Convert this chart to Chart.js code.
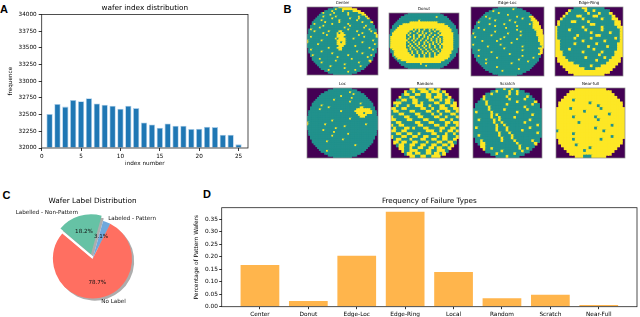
<!DOCTYPE html>
<html>
<head>
<meta charset="utf-8">
<script src="https://cdn.jsdelivr.net/npm/chart.js@4.4.0/dist/chart.umd.min.js"></script>
<style>
  html, body { margin: 0; padding: 0; background: #fff; }
  #page { position: relative; width: 640px; height: 317px; overflow: hidden; }
  #page canvas { position: absolute; }
  .tag { position: absolute; font: bold 11px "Liberation Sans", Arial, sans-serif; line-height: 11px; color: #000; }
</style>
</head>
<body>
<div id="page">
  <div class="tag" style="left:0px;top:3.6px">A</div>
  <div class="tag" style="left:283.5px;top:3.6px">B</div>
  <div class="tag" style="left:2.5px;top:189.6px">C</div>
  <div class="tag" style="left:203px;top:188.6px">D</div>
</div>
<script>
// panel A
const indexNumbers = [1, 2, 3, 4, 5, 6, 7, 8, 9, 10, 11, 12, 13, 14, 15, 16, 17, 18, 19, 20, 21, 22, 23, 24, 25];
const indexCounts = [32510, 32660, 32620, 32720, 32700, 32745, 32667, 32647, 32632, 32587, 32632, 32597,
  32383, 32353, 32303, 32368, 32333, 32333, 32284, 32289, 32318, 32313, 32199, 32199, 32055];

// panel C
const pieLabels = ['Labelled - Non-Pattern', 'Labeled - Pattern', 'No Label'];
const pieShares = [18.2, 3.1, 78.7];

// panel D
const failureTypes = ['Center', 'Donut', 'Edge-Loc', 'Edge-Ring', 'Local', 'Random', 'Scratch', 'Near-Full'];
const failureShares = [0.167, 0.023, 0.204, 0.381, 0.139, 0.034, 0.048, 0.007];

// panel B wafer maps: 0 = off wafer, 1 = pass die, 2 = fail die
const centerMap = [
  '00000 00000 00000  11122 22222  00000 00000 00000',
  '00000 00000 00  11112 11122 22222 2  00000 00000 00',
  '00000 00000  11112 11111 21111 12222  00000 00000',
  '00000 000  12111 11211 11111 21111 1222  00000 000',
  '00000 00  11111 12111 11111 12111 11112 2  00000 00',
  '00000 0  11121 11111 21111 11111 11121 112  00000 0',
  '00000  11111 11112 11111 11112 11112 11112  00000',
  '0000  11112 11111 11112 11111 11112 11111 11  0000',
  '000  11111 11211 11111 21111 11111 11121 1112  000',
  '000  12111 11111 12111 11111 21111 11111 1111  000',
  '00  11111 11211 11111 11111 11211 11111 12111 1  00',
  '00  11111 21111 11111 11112 11111 11111 21111 1  00',
  '0  12111 11111 11111 11111 11211 11111 11112 111  0',
  '0  11121 11111 12111 11221 11111 11211 11111 211  0',
  '0  11111 11121 11111 12122 11111 11111 21111 112  0',
  '11111 11111 12111 11222 22111 11112 11111 11112',
  '11211 11111 11111 11222 21111 11111 11211 11112',
  '11111 11111 11111 12122 22111 12111 11111 11111',
  '21111 11121 11111 11222 22111 11111 11111 11211',
  '21111 11111 11111 11221 22111 11111 12111 11111',
  '11111 12111 11111 11222 22111 11111 11111 11121',
  '11111 11111 11111 11122 21111 11211 11111 11111',
  '0  11111 11111 12111 12221 11111 11111 11112 111  0',
  '0  12111 11111 11111 11221 11111 11111 11111 121  0',
  '0  11111 11211 11111 11111 11111 11211 11111 111  0',
  '00  11111 11111 11211 11111 11111 11112 11111 1  00',
  '00  12111 11111 11111 11111 12111 11111 11112 1  00',
  '000  11111 11111 11112 11111 11111 11111 1211  000',
  '000  11112 11111 11111 11111 11211 11111 1111  000',
  '0000  11111 11111 11211 11111 11111 11111 12  0000',
  '00000  11121 11111 11111 11111 11112 11111  00000',
  '00000 0  11111 11111 11111 21111 11111 111  00000 0',
  '00000 00  11111 12111 11111 11111 11121 1  00000 00',
  '00000 000  11111 11111 11121 11111 1111  00000 000',
  '00000 00000  11211 11111 11111 11211  00000 00000',
  '00000 00000 00  11111 11111 12111 1  00000 00000 00',
  '00000 00000 00000  11111 11111  00000 00000 00000'
];

const donutMap = [
  '00000 00000 01111 11111 11111 11110 00000 00000',
  '00000 00001 11111 11111 11111 11111 10000 00000',
  '00000 00111 11111 11111 11111 11211 11100 00000',
  '00000 01111 11111 11111 11111 11111 11110 00000',
  '00000 11111 11111 11211 11111 11111 11111 00000',
  '00001 11111 11222 22222 22222 22211 11111 10000',
  '00011 11122 22222 22222 22222 22222 22111 11000',
  '00111 12222 22222 22222 22222 22222 22221 11100',
  '00111 22222 22222 22222 22222 22222 22222 11100',
  '01112 22222 22221 21211 21121 21222 22222 21110',
  '01122 22222 22112 11212 11121 12112 22222 21110',
  '01222 22222 21211 12112 12112 11121 22222 22110',
  '11222 22222 12112 11221 21121 12112 22222 22111',
  '12222 22222 11212 11211 21211 21121 12222 22111',
  '12222 22222 12112 12112 11212 11212 12222 22111',
  '12222 22222 21121 21121 12112 11212 12222 22111',
  '12222 22222 12112 11211 21211 21212 12222 22111',
  '12222 22222 11211 21211 21121 21121 22222 22111',
  '12222 22222 12121 12112 12121 12112 12222 22111',
  '02222 22222 11212 11211 21121 12112 12222 22110',
  '01222 22222 21211 21121 12112 11211 22222 22110',
  '01122 22222 21121 12112 11211 21121 22222 21110',
  '00122 22222 22121 12112 12121 12112 22222 21100',
  '00122 22222 22212 11211 21121 12122 22222 11100',
  '00012 22222 22222 11211 21121 12222 22222 11000',
  '00001 22222 22222 22222 22222 22222 22221 10000',
  '00000 11222 22222 22222 22222 22222 22111 00000',
  '00000 01111 22222 22222 22222 22222 11110 00000',
  '00000 00111 11111 11121 11111 11111 11100 00000',
  '00000 00001 11111 11111 12111 11111 10000 00000',
  '00000 00000 01111 11111 11111 11110 00000 00000'
];

const edgeLocMap = [
  '00000 00000 00000  11111 11111  00000 00000 00000',
  '00000 00000 00  11111 11111 12111 1  00000 00000 00',
  '00000 00000  11211 11111 11111 11111  00000 00000',
  '00000 000  11111 11211 11111 11111 1111  00000 000',
  '00000 00  11111 11111 11121 11111 11111 1  00000 00',
  '00000 0  11211 11111 11111 11112 11111 122  00000 0',
  '00000  11111 21111 11111 11111 11121 11122  00000',
  '0000  11111 11112 11111 11211 11111 11112 22  0000',
  '000  12111 11111 11111 11111 12111 11111 1222  000',
  '000  11111 11211 11111 21111 11111 11112 1222  000',
  '00  11111 11111 12111 11111 11121 11111 11222 2  00',
  '00  11211 11111 11111 11211 11111 11111 11222 2  00',
  '0  11111 12111 11111 11111 11112 11111 11112 222  0',
  '0  11111 11111 11211 11111 11111 12111 11111 222  0',
  '0  21111 11111 11111 11112 11111 11111 11111 222  0',
  '11111 11111 12111 11111 11111 11211 11111 12222',
  '11211 11111 11111 11121 11111 11111 11111 11222',
  '11111 11111 11111 12111 11111 21111 11111 11222',
  '11111 12111 11112 11111 11111 11111 11111 11222',
  '11111 11111 11111 11111 11211 11111 11111 11122',
  '12111 11111 11111 12111 11111 11111 11111 11122',
  '11111 11112 11111 11111 11111 11121 11111 11112',
  '0  11111 11111 11111 11211 11111 11111 11111 122  0',
  '0  11121 11111 11111 11111 11111 11211 11111 112  0',
  '0  11111 11111 21111 11111 11111 11111 11111 112  0',
  '00  11111 11111 11111 11112 11111 11111 11111 2  00',
  '00  11211 11111 11111 11111 11111 12111 11111 1  00',
  '000  11111 11111 12111 11111 11111 11111 1211  000',
  '000  11111 21111 11111 11111 11121 11111 1111  000',
  '0000  11111 11111 11111 11111 11111 11211 11  0000',
  '00000  11121 11111 11111 11211 11111 11111  00000',
  '00000 0  11111 11111 11111 11111 11111 111  00000 0',
  '00000 00  11111 11211 11111 11111 11111 1  00000 00',
  '00000 000  11111 11111 11111 11121 1111  00000 000',
  '00000 00000  11111 11211 11111 11111  00000 00000',
  '00000 00000 00  11111 11111 11111 1  00000 00000 00',
  '00000 00000 00000  11111 11111  00000 00000 00000'
];

const edgeRingMap = [
  '00000 00111 22111 11100 00000',
  '00000 21111 12112 11111 00000',
  '00002 11111 11211 12111 20000',
  '00021 11122 11112 21111 12000',
  '00211 11111 21111 11211 12200',
  '02111 12211 11211 11111 11220',
  '02111 11111 11122 11111 11220',
  '21111 11111 21111 11211 11122',
  '21111 21111 12111 11211 11112',
  '21111 11111 11121 11111 21112',
  '21111 11121 11111 22111 11112',
  '21111 11211 11121 11111 11212',
  '22111 11111 21111 11121 11112',
  '22111 11211 11111 21111 11122',
  '22111 11111 11211 11112 11122',
  '22111 21111 11112 11111 11122',
  '22211 11111 21111 11211 11222',
  '22211 11111 11111 12111 11222',
  '02221 11111 12111 11121 12220',
  '02222 11111 11111 21111 22220',
  '00222 22111 11111 11112 22200',
  '00022 22221 11121 11222 22000',
  '00002 22222 21111 22222 20000',
  '00000 22222 22222 22222 00000',
  '00000 00222 22222 22200 00000'
];

const locMap = [
  '00000 00000 00000  11111 11111  00000 00000 00000',
  '00000 00000 00  11111 11111 11111 1  00000 00000 00',
  '00000 00000  11111 11111 11112 11111  00000 00000',
  '00000 000  11111 11111 11111 11121 1111  00000 000',
  '00000 00  11111 11111 11211 11111 11111 1  00000 00',
  '00000 0  11111 11111 11111 11112 11111 111  00000 0',
  '00000  11111 11111 21111 11111 11111 11111  00000',
  '0000  11111 11111 11111 11111 21111 11111 11  0000',
  '000  11111 11111 11111 11111 11111 11211 1111  000',
  '000  11111 21111 11111 11111 11111 11111 1111  000',
  '00  11111 11111 21111 11111 11111 11122 11111 1  00',
  '00  11111 21111 11111 11111 11111 12222 22221 1  00',
  '0  11111 11111 11111 11121 11111 12222 22222 211  0',
  '0  11111 11111 11111 11111 11111 11222 21222 211  0',
  '0  11111 11111 11111 11111 11111 11122 22211 111  0',
  '11111 11111 11111 11111 11111 11111 22211 11111',
  '11111 11111 11111 11111 11112 11111 11111 11111',
  '11111 11111 11112 11111 11111 11111 11111 11111',
  '21111 11111 11111 11111 11111 11111 11111 11111',
  '21111 11111 21111 11111 11111 11111 11121 11111',
  '11111 11111 11111 11111 12111 11111 11111 11111',
  '11111 11111 11111 12111 11111 11111 11111 11111',
  '0  11111 11121 11111 11111 11111 11111 11111 111  0',
  '0  11111 11111 11112 11111 11111 11111 11111 111  0',
  '0  11111 11111 11111 11111 11211 11111 11111 111  0',
  '00  11111 11111 11211 11111 11111 11111 11111 1  00',
  '00  11111 11111 11111 11111 11111 11111 11111 1  00',
  '000  11111 11111 11111 11211 11111 11111 1111  000',
  '000  11111 11121 11111 11111 11111 11111 1111  000',
  '0000  11111 11111 11111 11111 11111 11111 11  0000',
  '00000  11111 11111 11111 11111 11211 11111  00000',
  '00000 0  11111 11111 11111 11111 11111 111  00000 0',
  '00000 00  11111 11111 11111 11111 11111 1  00000 00',
  '00000 000  11121 11111 11111 11111 1111  00000 000',
  '00000 00000  11111 11111 11111 11111  00000 00000',
  '00000 00000 00  11111 11111 11111 1  00000 00000 00',
  '00000 00000 00000  11111 11111  00000 00000 00000'
];

const randomMap = [
  '00000 00 22122 21221 2 00000 00',
  '00000 21121 12221 22212 00000',
  '0000 12211 22112 21122 12 0000',
  '000 21112 21111 22122 2112 000',
  '00 11221 12211 11221 12122 1 00',
  '0 22211 11221 21111 22112 212 0',
  '0 12111 21122 21121 11221 122 0',
  '22112 21111 12211 21122 21122',
  '12211 11221 11122 11211 22112',
  '11122 11112 21111 21121 11221',
  '21111 22111 22111 12211 21112',
  '22111 12211 11221 11122 11211',
  '11221 11112 21112 21111 22122',
  '21122 11111 22111 12211 21112',
  '12111 22121 11221 11122 11221',
  '22112 21111 11122 21121 12212',
  '11221 12211 21111 22111 21121',
  '21112 21122 11221 11212 21112',
  '0 12211 12111 22112 21122 112 0',
  '0 22122 11221 11211 12211 221 0',
  '00 12211 22112 21122 11221 2 00',
  '000 22112 11221 12212 2112 000',
  '0000 21122 21112 21122 21 0000',
  '00000 12212 21122 12212 00000',
  '00000 00 22112 21122 2 00000 00'
];

const scratchMap = [
  '00000 0000 111211211 0000 00000',
  '00000 00 11211 11211 211 00 00000',
  '00000 11211 11112 11211 11 00000',
  '0000 21111 11112 11111 1121 0000',
  '000 12111 11111 12111 11211 1 000',
  '00 11121 11111 11111 21111 112 00',
  '0 11112 11111 11211 11111 11211 0',
  '0 11111 21111 11111 11112 11111 0',
  '11111 12111 11211 11111 12111 11',
  '12111 11211 11111 11211 11111 11',
  '11111 11212 11111 11111 11121 11',
  '11111 11211 21111 12111 11111 11',
  '11211 11121 21111 11111 11211 11',
  '11111 11121 12111 11111 21111 11',
  '11111 11112 11211 11111 11111 21',
  '12111 11112 11121 11111 11211 11',
  '11111 11112 11121 11112 11111 11',
  '11111 11111 21112 11111 11111 21',
  '11211 11111 21111 21111 11111 11',
  '0 11111 11111 21112 11111 11111 0',
  '0 11211 11111 21111 21111 11211 0',
  '00 12211 11111 11111 21111 112 00',
  '000 22111 11111 11111 21111 1 000',
  '0000 21121 11111 11112 1121 0000',
  '00000 11111 12111 11112 11 00000',
  '00000 00 11211 11112 111 00 00000',
  '00000 0000 111121111 0000 00000'
];

const nearFullMap = [
  '00000 00222 22222 22200 00000',
  '00000 22222 22222 22222 00000',
  '00002 22222 22222 22222 20000',
  '00022 22222 22222 22222 22000',
  '00222 21222 22222 22222 22200',
  '02222 22222 22122 22222 22220',
  '02222 22222 22222 12222 22220',
  '22222 12222 22222 21222 22222',
  '22222 22222 12222 22222 22222',
  '22222 22222 22222 22221 22222',
  '22222 21222 22221 22222 22222',
  '22222 22222 22222 12222 22222',
  '22222 22212 22222 22222 22222',
  '22222 22222 22222 22222 12222',
  '22222 22222 22221 22222 22222',
  '12222 22222 22222 22122 22222',
  '22222 21222 22222 22222 22222',
  '22222 22222 22222 22222 12222',
  '02222 21222 22222 21222 22220',
  '02222 22222 22222 22222 22220',
  '00222 22122 22222 22222 22200',
  '00022 22222 22122 22222 22000',
  '00002 22222 12222 22222 20000',
  '00000 22222 22222 22222 00000',
  '00000 00222 11122 22200 00000'
];

const PURPLE = '#440154';
const TEAL = '#21918c';
const YELLOW = '#fde725';

Chart.defaults.font.family = '"DejaVu Sans", sans-serif';
Chart.defaults.color = '#000';

function place(id, left, top, w, h) {
  const c = document.createElement('canvas');
  c.id = id;
  c.width = w;
  c.height = h;
  c.style.left = left + 'px';
  c.style.top = top + 'px';
  c.style.width = w + 'px';
  c.style.height = h + 'px';
  document.getElementById('page').appendChild(c);
  return c;
}

// axes frame (all four spines) and optional axes background
const frameBox = {
  id: 'frameBox',
  beforeDatasetsDraw(chart, args, opts) {
    if (!opts.fill) return;
    const a = chart.chartArea;
    chart.ctx.save();
    chart.ctx.fillStyle = opts.fill;
    chart.ctx.fillRect(a.left, a.top, a.right - a.left, a.bottom - a.top);
    chart.ctx.restore();
  },
  afterDatasetsDraw(chart, args, opts) {
    const a = chart.chartArea;
    const ctx = chart.ctx;
    ctx.save();
    ctx.strokeStyle = opts.color || '#222';
    ctx.lineWidth = opts.width || 0.8;
    ctx.strokeRect(a.left, a.top, a.right - a.left, a.bottom - a.top);
    ctx.restore();
  }
};

// title centred over the axes like matplotlib does
const axTitle = {
  id: 'axTitle',
  afterDraw(chart, args, opts) {
    const a = chart.chartArea;
    const ctx = chart.ctx;
    ctx.save();
    ctx.font = opts.size + 'px "DejaVu Sans"';
    ctx.fillStyle = '#000';
    ctx.textAlign = 'center';
    ctx.textBaseline = 'middle';
    ctx.fillText(opts.text, (a.left + a.right) / 2, opts.y);
    ctx.restore();
  }
};

function tickAxis(extra) {
  return Object.assign({
    grid: { display: true, drawOnChartArea: false, drawTicks: true, tickLength: 3, color: '#000', lineWidth: 0.8, offset: false },
    border: { display: false }
  }, extra);
}

// ---------- A: wafer index distribution ----------
new Chart(place('chartA', 0, 0, 256, 167), {
  type: 'bar',
  data: {
    datasets: [{
      data: indexNumbers.map((n, i) => ({ x: n, y: indexCounts[i] })),
      base: 32000,
      backgroundColor: '#1f77b4',
      borderColor: '#a9cce8',
      borderWidth: 0.8,
      borderSkipped: 'start',
      categoryPercentage: 1,
      barPercentage: 0.8
    }]
  },
  options: {
    responsive: false,
    animation: false,
    events: [],
    layout: { padding: { top: 14.4, right: 8, left: 0, bottom: 0 } },
    plugins: {
      legend: { display: false },
      tooltip: { enabled: false },
      axTitle: { text: 'wafer index distribution', y: 8.6, size: 7.3 },
      frameBox: {}
    },
    scales: {
      x: tickAxis({
        type: 'linear', offset: false, min: 0, max: 26.2,
        ticks: { stepSize: 5, includeBounds: false, font: { size: 5.7 }, padding: 1.8, maxRotation: 0 },
        title: { display: true, text: 'index number', font: { size: 5.7 }, padding: { top: 0, bottom: 0.5 } },
        afterFit: s => { s.height = 19; }
      }),
      y: tickAxis({
        min: 32000, max: 34000,
        ticks: { stepSize: 250, includeBounds: false, font: { size: 5.7 }, padding: 2, autoSkip: false, callback: v => String(v) },
        title: { display: true, text: 'frequence', font: { size: 5.7 }, padding: { top: 7.4, bottom: 0 } },
        afterFit: s => { s.width = 41.7; }
      })
    }
  },
  plugins: [frameBox, axTitle]
});

// ---------- B: wafer maps ----------
function drawWafer(id, box, title, rows, cols) {
  const grid = rows.map(r => r.replace(/\s/g, ''));
  const cells = [];
  grid.forEach((row, y) => {
    for (let x = 0; x < row.length; x++) {
      if (row[x] !== '0') cells.push({ x: x, y: y, v: row[x] });
    }
  });
  new Chart(place(id, box[0], box[1], box[2], box[3]), {
    type: 'scatter',
    data: {
      datasets: [{
        data: cells,
        pointStyle: 'rect',
        pointBorderWidth: 0,
        pointBackgroundColor: c => (c.raw && c.raw.v === '2') ? YELLOW : TEAL,
        // one pixel of overlap hides the antialiasing seams between cells
        pointRadius: c => {
          const a = c.chart.chartArea;
          if (!a) return 1;
          const cell = Math.max((a.right - a.left) / cols, (a.bottom - a.top) / grid.length);
          return (cell + 1) / Math.SQRT2;
        }
      }]
    },
    options: {
      responsive: false,
      animation: false,
      events: [],
      layout: { padding: 0 },
      plugins: {
        legend: { display: false },
        tooltip: { enabled: false },
        title: { display: true, text: title, color: '#000', font: { size: 4, weight: 'normal' }, padding: { top: 0.7, bottom: 1.5 } },
        frameBox: { fill: PURPLE, color: '#8a8a8a', width: 0.7 }
      },
      scales: {
        x: { type: 'linear', min: -0.5, max: cols - 0.5, display: false },
        y: { type: 'linear', min: -0.5, max: grid.length - 0.5, reverse: true, display: false }
      }
    },
    plugins: [frameBox]
  });
}

drawWafer('mapCenter', [303, 0, 79, 79], 'Center', centerMap, 40);
drawWafer('mapDonut', [385, 6, 78, 67], 'Donut', donutMap, 40);
drawWafer('mapEdgeLoc', [467, 0, 81, 80], 'Edge-Loc', edgeLocMap, 40);
drawWafer('mapEdgeRing', [551, 0, 76, 80], 'Edge-Ring', edgeRingMap, 25);
drawWafer('mapLoc', [303, 81, 79, 81], 'Loc', locMap, 40);
drawWafer('mapRandom', [387, 81, 76, 81], 'Random', randomMap, 25);
drawWafer('mapScratch', [469, 81, 77, 81], 'Scratch', scratchMap, 27);
drawWafer('mapNearFull', [552, 81, 77, 81], 'Near-full', nearFullMap, 25);

// ---------- C: label pie ----------
const pieShadow = {
  id: 'pieShadow',
  beforeDatasetsDraw(chart) {
    const ctx = chart.ctx;
    ctx.save();
    ctx.fillStyle = 'rgba(0,0,0,0.32)';
    chart.getDatasetMeta(0).data.forEach(arc => {
      const mid = (arc.startAngle + arc.endAngle) / 2;
      const off = (arc.options.offset || 0) / 4;
      const cx = arc.x + Math.cos(mid) * off + 2.2;
      const cy = arc.y + Math.sin(mid) * off + 2.2;
      ctx.beginPath();
      ctx.moveTo(cx, cy);
      ctx.arc(cx, cy, arc.outerRadius, arc.startAngle, arc.endAngle);
      ctx.closePath();
      ctx.fill();
    });
    ctx.restore();
  }
};

const pieText = {
  id: 'pieText',
  afterDatasetsDraw(chart) {
    const ctx = chart.ctx;
    ctx.save();
    ctx.font = '5.6px "DejaVu Sans"';
    ctx.fillStyle = '#111';
    ctx.textBaseline = 'middle';
    chart.getDatasetMeta(0).data.forEach((arc, i) => {
      const mid = (arc.startAngle + arc.endAngle) / 2;
      const off = (arc.options.offset || 0) / 4;
      const cx = arc.x + Math.cos(mid) * off;
      const cy = arc.y + Math.sin(mid) * off;
      const r = arc.outerRadius;
      ctx.textAlign = Math.cos(mid) < 0 ? 'right' : 'left';
      ctx.fillText(pieLabels[i], cx + Math.cos(mid) * r * 1.1, cy + Math.sin(mid) * r * 1.1);
      ctx.textAlign = 'center';
      ctx.fillText(pieShares[i].toFixed(1) + '%', cx + Math.cos(mid) * r * 0.6, cy + Math.sin(mid) * r * 0.6);
    });
    ctx.restore();
  }
};

new Chart(place('chartC', 0, 188, 186, 129), {
  type: 'pie',
  data: {
    labels: pieLabels,
    datasets: [{
      data: pieShares,
      backgroundColor: ['#66c2a5', '#6fa8dc', '#ff6f61'],
      borderWidth: 0,
      offset: [20, 0, 0],
      radius: 39.5
    }]
  },
  options: {
    responsive: false,
    animation: false,
    events: [],
    rotation: -50,
    layout: { padding: { top: 18, bottom: 5, left: 0, right: 1 } },
    plugins: {
      legend: { display: false },
      tooltip: { enabled: false },
      axTitle: { text: 'Wafer Label Distribution', y: 13.2, size: 7.3 }
    }
  },
  plugins: [pieShadow, pieText, axTitle]
});

// ---------- D: failure type frequency ----------
new Chart(place('chartD', 186, 188, 454, 129), {
  type: 'bar',
  data: {
    datasets: [{
      data: failureTypes.map((t, i) => ({ x: i, y: failureShares[i] })),
      backgroundColor: '#ffb54c',
      borderWidth: 0,
      categoryPercentage: 1,
      barPercentage: 0.8
    }]
  },
  options: {
    responsive: false,
    animation: false,
    events: [],
    layout: { padding: { top: 19.7, right: 3, left: 0, bottom: 0 } },
    plugins: {
      legend: { display: false },
      tooltip: { enabled: false },
      axTitle: { text: 'Frequency of Failure Types', y: 13.3, size: 7.2 },
      frameBox: {}
    },
    scales: {
      x: tickAxis({
        type: 'linear', offset: false, min: -0.79, max: 7.79,
        grid: { display: true, drawOnChartArea: false, drawTicks: true, tickLength: 2.5, color: '#000', lineWidth: 0.8, offset: false },
        ticks: { stepSize: 1, includeBounds: false, font: { size: 5.8 }, padding: 1.5, maxRotation: 0, autoSkip: false,
          callback: v => failureTypes[v] || '' },
        afterFit: s => { s.height = 10.3; }
      }),
      y: tickAxis({
        min: 0, max: 0.397,
        grid: { display: true, drawOnChartArea: false, drawTicks: true, tickLength: 2.5, color: '#000', lineWidth: 0.8, offset: false },
        ticks: { stepSize: 0.05, includeBounds: false, font: { size: 5.8 }, padding: 1.2, autoSkip: false, callback: v => v.toFixed(2) },
        title: { display: true, text: 'Percentage of Pattern Wafers', font: { size: 5.8 }, padding: { top: 7, bottom: 0 } },
        afterFit: s => { s.width = 35.7; }
      })
    }
  },
  plugins: [frameBox, axTitle]
});
</script>
</body>
</html>
